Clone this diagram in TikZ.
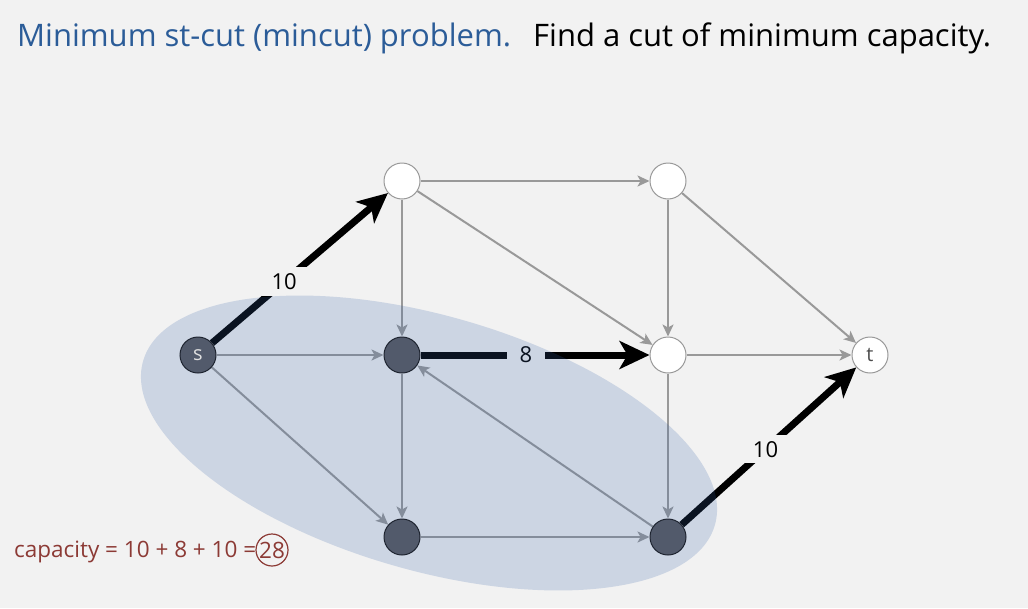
\documentclass[tikz,border=0pt]{standalone}
\usepackage{fontspec}
\setmainfont{Open Sans}
\usetikzlibrary{arrows.meta}

\pgfdeclarelayer{bg}
\pgfdeclarelayer{edges}
\pgfdeclarelayer{cut}
\pgfsetlayers{bg,edges,cut,main}

\definecolor{bgcol}{HTML}{F2F2F2}
\definecolor{titleblue}{HTML}{2B5C98}
\definecolor{edgegray}{HTML}{999999}
\definecolor{cutblue}{RGB}{52,97,167}
\definecolor{darknode}{HTML}{525A6B}
\definecolor{darkrim}{HTML}{1E2430}
\definecolor{capred}{HTML}{8C3A35}

\begin{document}
\begin{tikzpicture}[x=1pt,y=-1pt,
  vtx/.style={circle, minimum size=36pt, inner sep=0pt, line width=1pt,
              font=\fontsize{20}{22}\selectfont},
  open/.style={vtx, fill=white, draw=edgegray, text=black!70},
  inside/.style={vtx, fill=darknode, draw=darkrim, text=white!88!black},
  flow/.style={draw=edgegray, line width=2pt,
               -{Stealth[length=12pt,width=11pt,inset=3pt]}},
  cutedge/.style={draw=black, line width=7pt,
               -{Stealth[length=30pt,width=28pt,inset=8pt]}},
  caplabel/.style={fill=bgcol, text=black, inner xsep=13pt, inner ysep=6pt,
               font=\fontsize{22}{24}\selectfont},
  heading/.style={anchor=base west, inner sep=0pt, font=\fontsize{31}{36}\selectfont}
]

% canvas
\begin{pgfonlayer}{bg}
  \fill[bgcol] (0,0) rectangle (1028,608);
\end{pgfonlayer}
\useasboundingbox (0,0) rectangle (1028,608);

% heading
\node[heading, text=titleblue] (head1) at (17,46) {Minimum st-cut (mincut) problem.};
\node[heading, text=black] (head2) at (533,46) {Find a cut of minimum capacity.};

% vertices
\node[open]   (A) at (402,181) {};
\node[open]   (B) at (668,181) {};
\node[inside] (s) at (198,355) {s};
\node[inside] (M) at (402,355) {};
\node[open]   (C) at (668,355) {};
\node[open]   (t) at (870,355) {t};
\node[inside] (D) at (402,537) {};
\node[inside] (E) at (668,537) {};

% edges of the network
\begin{pgfonlayer}{edges}
  \draw[flow] (A) -- (B);
  \draw[flow] (A) -- (M);
  \draw[flow] (A) -- (C);
  \draw[flow] (B) -- (C);
  \draw[flow] (B) -- (t);
  \draw[flow] (s) -- (M);
  \draw[flow] (s) -- (D);
  \draw[flow] (M) -- (D);
  \draw[flow] (E) -- (M);
  \draw[flow] (D) -- (E);
  \draw[flow] (C) -- (E);
  \draw[flow] (C) -- (t);
  % edges crossing the cut
  \draw[cutedge] (s) -- node[caplabel, pos=0.41] (l1) {10} (A);
  \draw[cutedge] (M) -- node[caplabel, pos=0.46] (l2) {8} (C);
  \draw[cutedge] (E) -- node[caplabel, pos=0.48] (l3) {10} (t);
\end{pgfonlayer}

% the source side of the cut
\begin{pgfonlayer}{cut}
  \fill[cutblue, fill opacity=0.2, rotate around={-16:(429,443)}]
    (429,443) ellipse [x radius=297.4pt, y radius=127.5pt];
\end{pgfonlayer}

% capacity of the cut
\node[anchor=base west, inner sep=0pt, text=capred,
      font=\fontsize{22.5}{24}\selectfont] (captext) at (14,557)
      {capacity = 10 + 8 + 10 =};
\node[circle, draw=capred, line width=1.2pt, minimum size=32pt, inner sep=0pt,
      text=capred, font=\fontsize{22.5}{24}\selectfont] (total) at (272,550) {28};

\end{tikzpicture}
\end{document}
